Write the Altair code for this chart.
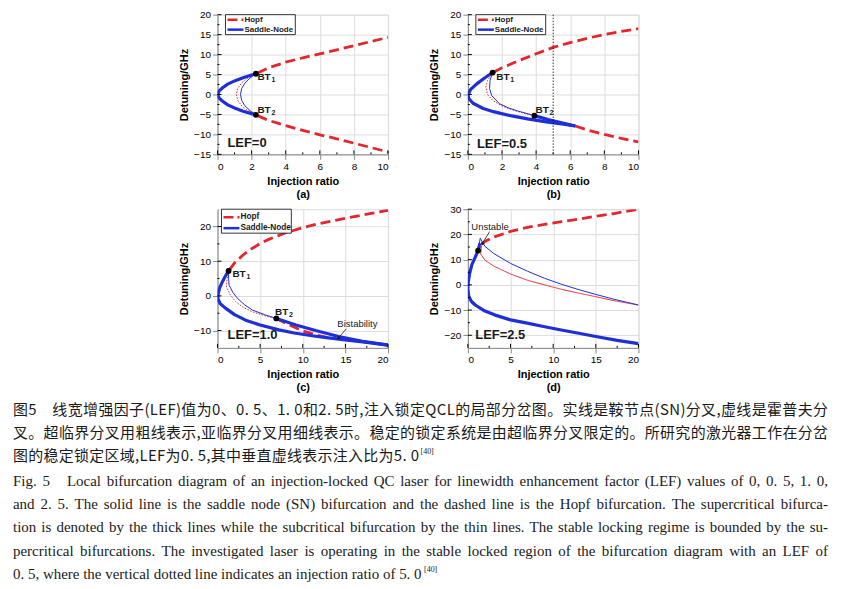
import altair as alt
import pandas as pd

SANS = "Liberation Sans"
SERIF = "Liberation Serif"
CJK = "Noto Sans CJK SC"
RED = "#e3262b"
BLUE = "#1f2fd8"
INK = "#1a1a1a"

# ---------------- Panel (a): LEF = 0 ----------------
a_sn_x = [2.25, 2.0, 1.5, 1.0, 0.6, 0.3, 0.1, 0.0, 0.1, 0.3, 0.6, 1.0, 1.5, 2.0, 2.25]
a_sn_y = [5.2, 4.9, 4.2, 3.4, 2.6, 1.7, 0.9, 0.0, -0.9, -1.7, -2.6, -3.4, -4.2, -4.8, -5.1]
a_sub_sn_x = [2.25, 1.9, 1.6, 1.42, 1.35, 1.42, 1.6, 1.9, 2.25]
a_sub_sn_y = [5.2, 4.1, 2.8, 1.5, 0.0, -1.5, -2.8, -4.0, -5.1]
a_sub_h_x = [2.25, 1.8, 1.45, 1.2, 1.1, 1.2, 1.45, 1.8, 2.25]
a_sub_h_y = [5.2, 4.2, 3.0, 1.6, 0.0, -1.6, -3.0, -4.1, -5.1]
a_hopf_up_x = [2.35, 3, 4, 5, 6, 7, 8, 9, 10]
a_hopf_up_y = [5.4, 6.7, 8.1, 9.2, 10.2, 11.2, 12.2, 13.3, 14.3]
a_hopf_lo_x = [2.35, 3, 4, 5, 6, 7, 8, 9, 10]
a_hopf_lo_y = [-5.3, -6.5, -7.8, -9.0, -10.1, -11.1, -12.2, -13.3, -14.4]
a_bt_x = [2.25, 2.25]
a_bt_y = [5.2, -5.1]
a_btlab_x = [2.34, 2.34]
a_btlab_y = [4.33, -4.0]
a_btlab_sub = ["1", "2"]

# ---------------- Panel (b): LEF = 0.5 ----------------
b_sn_x = [1.45, 1.0, 0.5, 0.15, 0.02, 0.05, 0.3, 0.9, 1.5, 2.5, 3.5, 4.5, 5.5, 6.3]
b_sn_y = [5.5, 4.2, 2.6, 1.2, 0.0, -1.0, -2.2, -3.5, -4.3, -5.3, -6.1, -6.8, -7.4, -7.9]
b_sn2_x = [6.3, 5.5, 4.7, 3.9]
b_sn2_y = [-7.9, -7.1, -6.3, -5.3]
b_sub_sn_x = [1.45, 1.3, 1.27, 1.4, 1.85, 2.4, 2.9, 3.9]
b_sub_sn_y = [5.5, 3.5, 1.5, -0.3, -2.3, -3.4, -4.1, -5.3]
b_sub_h_x = [1.45, 1.15, 1.05, 1.15, 1.46, 2.0, 2.5, 3.2, 3.9]
b_sub_h_y = [5.5, 3.5, 1.8, 0.0, -1.5, -2.9, -3.7, -4.6, -5.3]
b_hopf_up_x = [1.5, 2, 3, 4, 5, 6, 7, 8, 9, 10]
b_hopf_up_y = [5.6, 6.7, 8.5, 10.2, 11.8, 13.0, 14.1, 15.0, 15.8, 16.5]
b_hopf_lo_x = [6.3, 7, 8, 9, 10]
b_hopf_lo_y = [-7.9, -8.9, -10.0, -11.0, -11.9]
b_bt_x = [1.45, 3.9]
b_bt_y = [5.5, -5.3]
b_btlab_x = [1.66, 3.96]
b_btlab_y = [4.33, -4.0]
b_btlab_sub = ["1", "2"]
b_vline = [5]

# ---------------- Panel (c): LEF = 1.0 ----------------
c_sn_x = [1.3, 0.9, 0.58, 0.25, 0.08, 0.05, 0.3, 0.97, 2, 3.3, 5, 7.2, 9, 11.1, 13, 15, 17.5, 20]
c_sn_y = [7.2, 5.6, 4.1, 2.3, 0.6, -0.8, -2.2, -3.6, -5.4, -7.0, -8.4, -9.8, -10.7, -11.5, -12.1, -12.7, -13.4, -14.2]
c_sn2_x = [20, 17, 14.2, 11.5, 9.2, 6.9]
c_sn2_y = [-14.2, -13.1, -11.7, -10.0, -8.4, -6.5]
c_sub_sn_x = [1.3, 1.3, 1.36, 1.8, 2.34, 3.2, 4.1, 5.5, 6.9]
c_sub_sn_y = [7.2, 5.0, 3.1, 1.0, -0.7, -2.6, -4.1, -5.4, -6.5]
c_sub_h_x = [1.3, 1.1, 1.05, 1.5, 2.15, 3.0, 4.1, 5.5, 6.9]
c_sub_h_y = [7.2, 4.5, 2.6, 0.3, -1.7, -3.3, -4.6, -5.7, -6.6]
c_hopf_up_x = [1.4, 2, 3, 4, 5, 6, 8, 10, 12, 15, 18, 20]
c_hopf_up_y = [7.5, 9.5, 11.8, 13.6, 15.1, 16.3, 18.2, 19.7, 20.9, 22.4, 23.8, 24.7]
c_hopf_lo_x = [6.9, 8.5, 10, 11.5, 12.8]
c_hopf_lo_y = [-6.5, -8.5, -10.1, -11.2, -12.0]
c_bt_x = [1.3, 6.9]
c_bt_y = [7.2, -6.5]
c_btlab_x = [1.75, 6.75]
c_btlab_y = [6.2, -4.55]
c_btlab_sub = ["1", "2"]
c_note = ["Bistability"]
c_note_x = [16.4]
c_note_y = [-8.1]
c_arrow_x = [15.1]
c_arrow_y = [-9.5]
c_arrow_x2 = [14.15]
c_arrow_y2 = [-12.2]

# ---------------- Panel (d): LEF = 2.5 ----------------
d_sn_x = [1.4, 1.2, 0.8, 0.47, 0.2, 0.05, 0.0, 0.1, 0.4, 0.86, 2, 3.2, 5, 7.1, 9, 11.1, 13, 15, 17.5, 20]
d_sn_y = [16.5, 13.6, 10.5, 8.0, 4.5, 1.3, -1.5, -4.5, -6.5, -8.0, -10.4, -12.0, -13.9, -15.3, -16.6, -18.0, -19.2, -20.5, -22.0, -23.3]
d_sub_sn_x = [1.2, 1.45, 2, 3, 5, 7, 9, 11, 13, 15, 17, 20]
d_sub_sn_y = [13.6, 18.5, 15.3, 12.5, 8.5, 5.4, 2.6, 0.2, -1.9, -3.8, -5.6, -8.0]
d_sub_h_x = [1.2, 1.6, 1.5, 2.0, 3, 5, 7, 9, 11, 13, 15, 17, 20]
d_sub_h_y = [13.6, 15.5, 12.3, 9.8, 7.5, 4.3, 1.8, 0.0, -1.8, -3.3, -4.7, -6.2, -8.0]
d_hopf_x = [1.6, 2, 3, 5, 7, 9, 11, 13, 15, 17, 20]
d_hopf_y = [16.0, 17.2, 18.9, 21.2, 22.8, 24.0, 25.1, 26.1, 27.2, 28.2, 30.0]
d_bt_x = [1.2]
d_bt_y = [13.6]
d_note = ["Unstable"]
d_note_x = [2.6]
d_note_y = [22.8]
d_arrow_x = [2.55]
d_arrow_y = [21.1]
d_arrow_x2 = [1.68]
d_arrow_y2 = [16.3]

# ---------------- axis ticks (major / minor) ----------------
ab_x_major = [0, 2, 4, 6, 8, 10]
ab_x_minor = [1, 3, 5, 7, 9]
ab_y_major = [-15, -10, -5, 0, 5, 10, 15, 20]
ab_y_minor = [-12.5, -7.5, -2.5, 2.5, 7.5, 12.5, 17.5]
cd_x_major = [0, 5, 10, 15, 20]
cd_x_minor = [2.5, 7.5, 12.5, 17.5]
c_y_major = [-10, 0, 10, 20]
c_y_minor = [-5, 5, 15]
d_y_major = [-20, -10, 0, 10, 20, 30]
d_y_minor = [-15, -5, 5, 15, 25]

caption_cn = [
    "图5　线宽增强因子(LEF)值为0、0. 5、1. 0和2. 5时,注入锁定QCL的局部分岔图。实线是鞍节点(SN)分叉,虚线是霍普夫分",
    "叉。超临界分叉用粗线表示,亚临界分叉用细线表示。稳定的锁定系统是由超临界分叉限定的。所研究的激光器工作在分岔",
    "图的稳定锁定区域,LEF为0. 5,其中垂直虚线表示注入比为5. 0",
]
caption_en = [
    "Fig. 5   Local bifurcation diagram of an injection-locked QC laser for linewidth enhancement factor (LEF) values of 0, 0. 5, 1. 0,",
    "and 2. 5. The solid line is the saddle node (SN) bifurcation and the dashed line is the Hopf bifurcation. The supercritical bifurca-",
    "tion is denoted by the thick lines while the subcritical bifurcation by the thin lines. The stable locking regime is bounded by the su-",
    "percritical bifurcations. The investigated laser is operating in the stable locked region of the bifurcation diagram with an LEF of",
    "0. 5, where the vertical dotted line indicates an injection ratio of 5. 0",
]
ref_mark = "[40]"

# ---------- text metrics used to justify the caption lines ----------
TIMES_W = {' ': 250, ',': 250, '.': 250, '-': 333, '(': 333, ')': 333, '[': 333, ']': 333,
           'A': 722, 'B': 667, 'C': 667, 'D': 722, 'E': 611, 'F': 556, 'G': 722, 'H': 722, 'I': 333,
           'J': 389, 'K': 722, 'L': 611, 'M': 889, 'N': 722, 'O': 722, 'P': 556, 'Q': 722, 'R': 667,
           'S': 556, 'T': 611, 'U': 722, 'V': 722, 'W': 944, 'X': 722, 'Y': 722, 'Z': 611,
           'a': 444, 'b': 500, 'c': 444, 'd': 500, 'e': 444, 'f': 333, 'g': 500, 'h': 500, 'i': 278,
           'j': 278, 'k': 500, 'l': 278, 'm': 778, 'n': 500, 'o': 500, 'p': 500, 'q': 500, 'r': 333,
           's': 389, 't': 278, 'u': 500, 'v': 500, 'w': 722, 'x': 500, 'y': 500, 'z': 444}
CJK_LATIN_W = {' ': 230, ',': 280, '.': 280, '(': 330, ')': 330, 'L': 540, 'E': 590, 'F': 550,
               'Q': 740, 'C': 640, 'S': 600, 'N': 720}
FS = 15
CAP_X0 = -205      # caption left edge, relative to panel (c) plot origin
CAP_X1 = 612       # right margin of justified lines
CN3_X1 = 202       # end of the last (short) Chinese line
CN_Y = [201, 224, 247]
EN_Y = [272, 296, 319, 343, 366]


def en_rows(line, y):
    words = line.split(" ")
    widths = [sum(TIMES_W.get(c, 500) for c in w) / 1000 * FS for w in words]
    natural = sum(widths) + 0.25 * FS * (len(words) - 1)
    gap = 0.25 * FS + (CAP_X1 - CAP_X0 - natural) / (len(words) - 1)
    rows, x = [], CAP_X0
    for w, wd in zip(words, widths):
        if w:
            rows.append({"t": w, "px": x, "py": y})
        x += wd + gap
    return rows


def cn_rows(line, y, x1):
    widths = [(CJK_LATIN_W.get(c, 555 if c.isdigit() else 1000)) / 1000 * FS for c in line]
    extra = (x1 - CAP_X0 - sum(widths)) / (len(line) - 1)
    rows, x = [], CAP_X0
    for c, wd in zip(line, widths):
        if c.strip():
            rows.append({"t": c, "px": x, "py": y})
        x += wd + extra
    return rows


def caption_layer():
    cn = []
    for line, y in zip(caption_cn[:2], CN_Y[:2]):
        cn += cn_rows(line, y, CAP_X1)
    cn += cn_rows(caption_cn[2], CN_Y[2], CN3_X1)
    en = []
    for line, y in zip(caption_en[:4], EN_Y[:4]):
        en += en_rows(line, y)
    en.append({"t": caption_en[4], "px": CAP_X0, "py": EN_Y[4]})
    sup = [{"t": ref_mark, "px": CN3_X1 + 1.5, "py": 243}, {"t": ref_mark, "px": 207, "py": 362}]
    PX = alt.X("px:Q", scale=None, axis=None)
    PY = alt.Y("py:Q", scale=None, axis=None)
    l1 = alt.Chart(pd.DataFrame(cn)).mark_text(align="left", baseline="middle", font=CJK,
                                               fontSize=FS, color=INK).encode(x=PX, y=PY, text="t:N")
    l2 = alt.Chart(pd.DataFrame(en)).mark_text(align="left", baseline="middle", font=SERIF,
                                               fontSize=FS, color=INK).encode(x=PX, y=PY, text="t:N")
    l3 = alt.Chart(pd.DataFrame(sup)).mark_text(align="left", baseline="middle", font=SERIF,
                                                fontSize=8, color=INK).encode(x=PX, y=PY, text="t:N")
    return alt.layer(l1, l2, l3)


def curves_df(curves):
    rows = []
    for name, kind, xs, ys in curves:
        for i, (x, y) in enumerate(zip(xs, ys)):
            rows.append({"curve": name, "kind": kind, "idx": i, "x": x, "y": y})
    return pd.DataFrame(rows)


def one():
    return alt.Chart(pd.DataFrame({"k": [0]}))


def legend_layers(x0, x1, y0, y1, r1, r2, fs):
    box = one().mark_rect(fill="white", stroke="black", strokeWidth=0.8).encode(
        x=alt.value(x0), x2=alt.value(x1), y=alt.value(y0), y2=alt.value(y1))
    l1 = one().mark_rule(color=RED, strokeWidth=2.5, strokeDash=[10, 4]).encode(
        x=alt.value(x0 + 2), x2=alt.value(x0 + 18), y=alt.value(r1))
    l2 = one().mark_rule(color=BLUE, strokeWidth=2.5).encode(
        x=alt.value(x0 + 2), x2=alt.value(x0 + 18), y=alt.value(r2))
    t1 = one().mark_text(text="Hopf", align="left", baseline="middle", font=SANS,
                         fontWeight="bold", fontSize=fs, color=INK).encode(
        x=alt.value(x0 + 19), y=alt.value(r1))
    t2 = one().mark_text(text="Saddle-Node", align="left", baseline="middle", font=SANS,
                         fontWeight="bold", fontSize=fs, color=INK).encode(
        x=alt.value(x0 + 19), y=alt.value(r2))
    return [box, l1, l2, t1, t2]


def tick_layers(X, Y, h, xmaj, xmin, ymaj, ymin):
    out = []
    for vals, ln in ((xmaj, 4), (xmin, 2)):
        out.append(alt.Chart(pd.DataFrame({"x": vals})).mark_rule(color="black", strokeWidth=1).encode(
            x=X, y=alt.value(h), y2=alt.value(h - ln)))
    for vals, ln in ((ymaj, 4), (ymin, 2)):
        out.append(alt.Chart(pd.DataFrame({"y": vals})).mark_rule(color="black", strokeWidth=1).encode(
            y=Y, x=alt.value(0), x2=alt.value(ln)))
    return out


def panel(xdom, ydom, ticks, tag, thick, thin_blue, thin_red, red_dash,
          bts, btlabs, lef, lef_pos, h, legend=None, extras=None):
    xmaj, xmin, ymaj, ymin = ticks
    X = alt.X("x:Q", scale=alt.Scale(domain=xdom, nice=False, zero=False),
              axis=alt.Axis(values=xmaj, title=["Injection ratio", tag]))
    Y = alt.Y("y:Q", scale=alt.Scale(domain=ydom, nice=False, zero=False),
              axis=alt.Axis(values=ymaj, title="Detuning/GHz"))
    layers = []
    thick_df = curves_df(thick)
    layers.append(alt.Chart(thick_df[thick_df.kind == "Hopf"]).mark_line(
        strokeWidth=2.8, strokeDash=[10, 5], color=RED, clip=True).encode(
        x=X, y=Y, detail="curve:N", order="idx:Q"))
    layers.append(alt.Chart(curves_df(thin_red)).mark_line(
        strokeWidth=1, color=RED, strokeDash=red_dash, clip=True).encode(
        x=X, y=Y, detail="curve:N", order="idx:Q"))
    layers.append(alt.Chart(curves_df(thin_blue)).mark_line(
        strokeWidth=1, color=BLUE, clip=True).encode(
        x=X, y=Y, detail="curve:N", order="idx:Q"))
    layers.append(alt.Chart(thick_df[thick_df.kind == "Saddle-Node"]).mark_line(
        strokeWidth=3.2, color=BLUE, clip=True, strokeJoin="round").encode(
        x=X, y=Y, detail="curve:N", order="idx:Q"))
    bx, by = bts
    layers.append(alt.Chart(pd.DataFrame({"x": bx, "y": by})).mark_point(
        filled=True, color="black", size=34, opacity=1).encode(x=X, y=Y))
    if btlabs:
        lx, ly, ls = btlabs
        df = pd.DataFrame({"x": lx, "y": ly, "s": ls, "t": ["BT"] * len(lx)})
        layers.append(alt.Chart(df).mark_text(
            align="left", baseline="middle", font=SANS, fontWeight="bold",
            fontSize=10, color=INK).encode(x=X, y=Y, text="t:N"))
        layers.append(alt.Chart(df).mark_text(
            align="left", baseline="middle", font=SANS, fontWeight="bold",
            fontSize=7, color=INK, dx=14, dy=3).encode(x=X, y=Y, text="s:N"))
    layers.append(alt.Chart(pd.DataFrame({"x": [lef_pos[0]], "y": [lef_pos[1]], "t": [lef]})).mark_text(
        align="left", baseline="middle", font=SANS, fontWeight="bold",
        fontSize=13, color=INK).encode(x=X, y=Y, text="t:N"))
    for kind, spec in (extras or []):
        if kind == "vline":
            layers.append(alt.Chart(pd.DataFrame({"x": spec})).mark_rule(
                color="black", strokeWidth=0.8, strokeDash=[1.5, 1.5]).encode(x=X))
        elif kind == "note":
            t, tx, ty, ax, ay, ax2, ay2, ang = spec
            layers.append(alt.Chart(pd.DataFrame({"x": tx, "y": ty, "t": t})).mark_text(
                align="center", baseline="middle", font=SANS, fontSize=9.5,
                color=INK).encode(x=X, y=Y, text="t:N"))
            adf = pd.DataFrame({"x": ax, "y": ay, "x2": ax2, "y2": ay2})
            layers.append(alt.Chart(adf).mark_rule(color=INK, strokeWidth=0.8).encode(
                x=X, y=Y, x2="x2:Q", y2="y2:Q"))
            layers.append(alt.Chart(pd.DataFrame({"x": ax2, "y": ay2})).mark_point(
                shape="triangle-up", filled=True, color=INK, size=14, angle=ang,
                opacity=1).encode(x=X, y=Y))
    layers.extend(tick_layers(X, Y, h, xmaj, xmin, ymaj, ymin))
    if legend:
        layers.extend(legend_layers(*legend))
    return alt.layer(*layers).properties(width=171, height=h)


pa = panel([0, 10], [-15, 20], (ab_x_major, ab_x_minor, ab_y_major, ab_y_minor), "(a)",
           [("h1", "Hopf", a_hopf_up_x, a_hopf_up_y), ("h2", "Hopf", a_hopf_lo_x, a_hopf_lo_y),
            ("s1", "Saddle-Node", a_sn_x, a_sn_y)],
           [("b1", "", a_sub_sn_x, a_sub_sn_y)], [("r1", "", a_sub_h_x, a_sub_h_y)], [1.5, 1.5],
           (a_bt_x, a_bt_y), (a_btlab_x, a_btlab_y, a_btlab_sub), "LEF=0", (0.58, -12.2), 140,
           legend=(8, 78, 0, 20, 5, 15, 8))

pb = panel([0, 10], [-15, 20], (ab_x_major, ab_x_minor, ab_y_major, ab_y_minor), "(b)",
           [("h1", "Hopf", b_hopf_up_x, b_hopf_up_y), ("h2", "Hopf", b_hopf_lo_x, b_hopf_lo_y),
            ("s1", "Saddle-Node", b_sn_x, b_sn_y), ("s2", "Saddle-Node", b_sn2_x, b_sn2_y)],
           [("b1", "", b_sub_sn_x, b_sub_sn_y)], [("r1", "", b_sub_h_x, b_sub_h_y)], [1.5, 1.5],
           (b_bt_x, b_bt_y), (b_btlab_x, b_btlab_y, b_btlab_sub), "LEF=0.5", (0.53, -12.3), 140,
           legend=(8, 78, 0, 20, 5, 15, 8), extras=[("vline", b_vline)])

pc_plot = panel([0, 20], [-15, 25], (cd_x_major, cd_x_minor, c_y_major, c_y_minor), "(c)",
                [("h1", "Hopf", c_hopf_up_x, c_hopf_up_y), ("h2", "Hopf", c_hopf_lo_x, c_hopf_lo_y),
                 ("s1", "Saddle-Node", c_sn_x, c_sn_y), ("s2", "Saddle-Node", c_sn2_x, c_sn2_y)],
                [("b1", "", c_sub_sn_x, c_sub_sn_y)], [("r1", "", c_sub_h_x, c_sub_h_y)], [1.5, 1.5],
                (c_bt_x, c_bt_y), (c_btlab_x, c_btlab_y, c_btlab_sub), "LEF=1.0", (1.17, -11.2), 139,
                legend=(4, 74, 0, 24, 8, 19, 8.3),
                extras=[("note", (c_note, c_note_x, c_note_y, c_arrow_x, c_arrow_y, c_arrow_x2, c_arrow_y2, 235))])
pc = alt.layer(pc_plot, caption_layer()).resolve_scale(x="independent", y="independent").properties(
    width=171, height=139)

pd_ = panel([0, 20], [-25, 30], (cd_x_major, cd_x_minor, d_y_major, d_y_minor), "(d)",
            [("h1", "Hopf", d_hopf_x, d_hopf_y), ("s1", "Saddle-Node", d_sn_x, d_sn_y)],
            [("b1", "", d_sub_sn_x, d_sub_sn_y)], [("r1", "", d_sub_h_x, d_sub_h_y)], [1, 0],
            (d_bt_x, d_bt_y), None, "LEF=2.5", (0.86, -19.7), 139,
            extras=[("note", (d_note, d_note_x, d_note_y, d_arrow_x, d_arrow_y, d_arrow_x2, d_arrow_y2, 212))])

chart = alt.concat(pa, pb, pc, pd_, columns=2, spacing={"row": 55, "column": 80}, bounds="flush").properties(
    padding={"left": 4, "top": 0, "right": 4, "bottom": 4}
).configure_view(stroke="black", strokeWidth=1).configure_axis(
    grid=False, domainColor="black", ticks=False, labelPadding=3,
    labelFont=SANS, labelFontSize=10, labelFontWeight="bold", labelColor=INK,
    titleFont=SANS, titleFontSize=12, titleFontWeight="bold", titleColor=INK,
    titleLineHeight=15
).configure_axisX(titlePadding=2, titleFontSize=11.5, labelPadding=2).configure_axisY(titlePadding=1).configure(
    background="white")

chart.save("out.html", embed_options={"renderer": "svg", "actions": False})
